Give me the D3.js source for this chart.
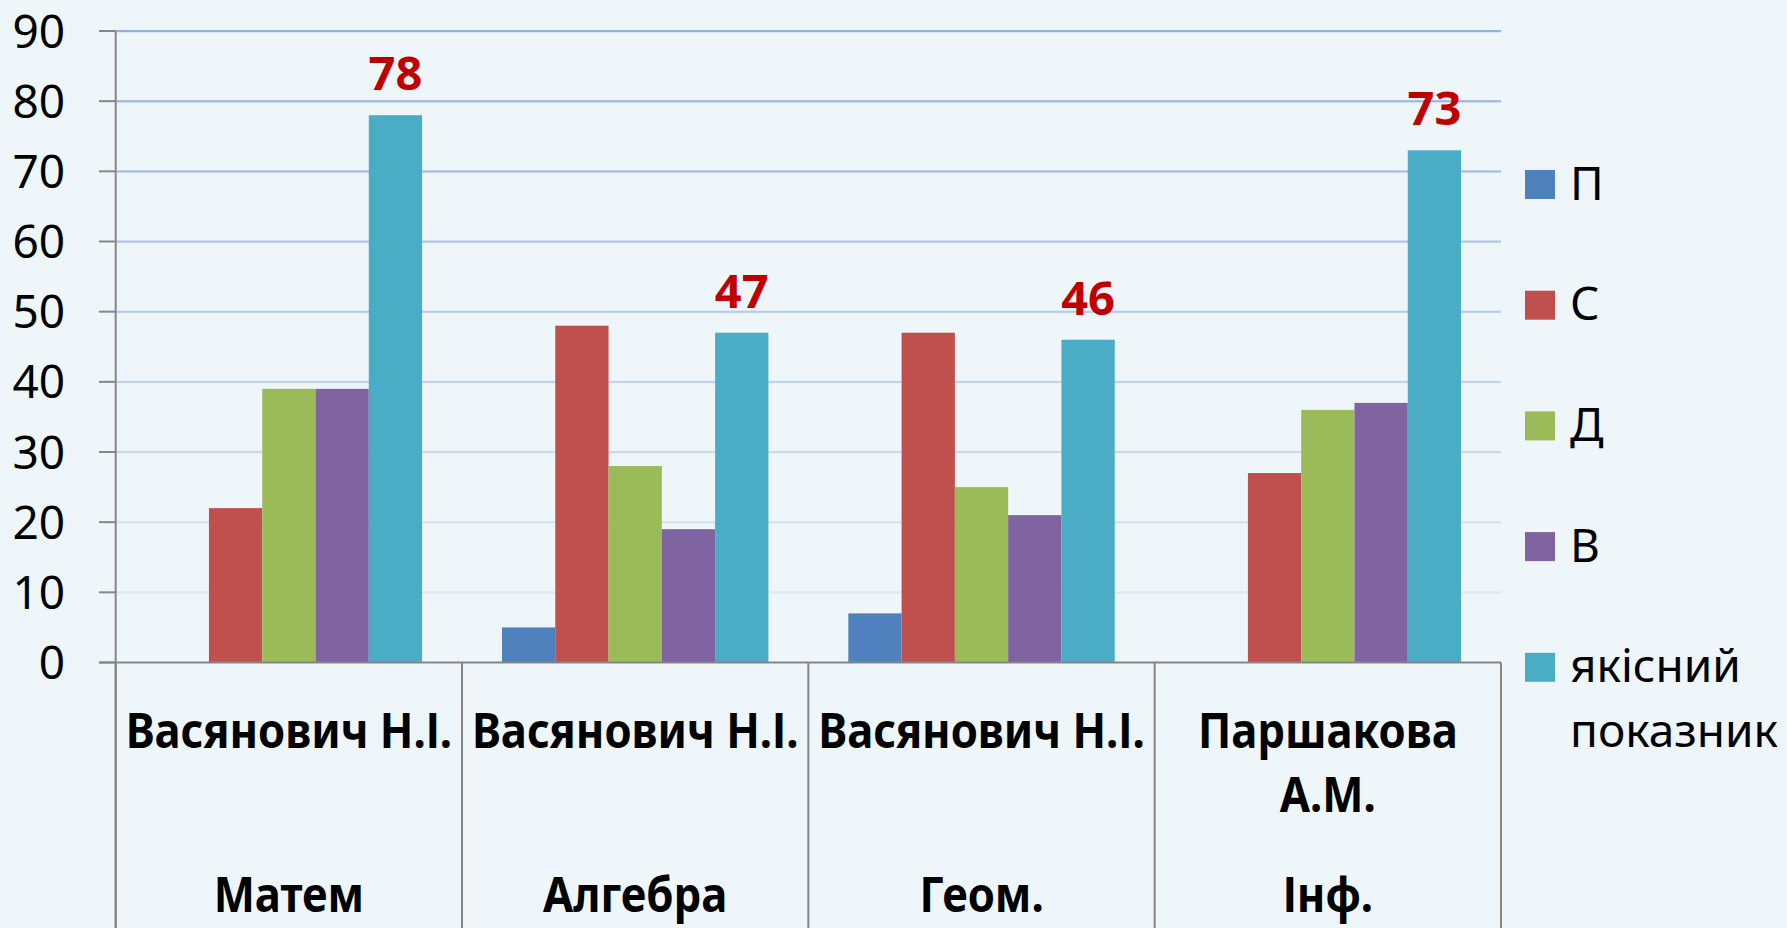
<!DOCTYPE html>
<html>
<head>
<meta charset="utf-8">
<script src="https://cdn.jsdelivr.net/npm/d3@7"></script>
<style>
	html, body { margin: 0; padding: 0; background: #eef6f9; }
	svg { display: block; font-family: 'Noto Sans', sans-serif; }
</style>
</head>
<body>
<div id="chart"></div>
<script>
const teachers = [['Васянович Н.І.'], ['Васянович Н.І.'], ['Васянович Н.І.'], ['Паршакова', 'А.М.']]
const subjects = ['Матем', 'Алгебра', 'Геом.', 'Інф.']
const series   = ['П', 'С', 'Д', 'В', 'якісний показник']
const colors   = ['#4f81bd', '#c0504d', '#9bbb59', '#8064a2', '#4bacc6']

const valP = [0, 5, 7, 0]
const valS = [22, 48, 47, 27]
const valD = [39, 28, 25, 36]
const valV = [39, 19, 21, 37]
const valQ = [78, 47, 46, 73]

const yTicks = [0, 10, 20, 30, 40, 50, 60, 70, 80, 90]

const values = [valP, valS, valD, valV, valQ]
const data = subjects.map((s, i) => ({
	subject: s,
	teacher: teachers[i],
	bars: series.map((name, k) => ({ name, k, value: values[k][i] }))
}))

const W = 1787, H = 928
const plotL = 115.7, plotR = 1501, plotT = 31, plotB = 662.5

const svg = d3.select('#chart').append('svg')
	.attr('width', W)
	.attr('height', H)

const defs = svg.append('defs')
const grad = defs.append('linearGradient')
	.attr('id', 'gridGrad')
	.attr('gradientUnits', 'userSpaceOnUse')
	.attr('x1', 0).attr('x2', 0)
	.attr('y1', plotT).attr('y2', plotB)
grad.append('stop').attr('offset', 0).attr('stop-color', '#93b1df')
grad.append('stop').attr('offset', 1).attr('stop-color', '#e6edf8')

const x = d3.scaleBand()
	.domain(subjects)
	.range([plotL, plotR])
	.padding(0)

const xs = d3.scaleBand()
	.domain(series)
	.range([0, x.bandwidth()])
	.paddingInner(0)
	.paddingOuter(0.75)

const y = d3.scaleLinear()
	.domain([0, 90])
	.range([plotB, plotT])

// Gridlines

svg.append('g')
	.selectAll('rect')
	.data(yTicks.filter(d => d > 0))
	.enter()
	.append('rect')
	.attr('x', plotL)
	.attr('width', plotR - plotL)
	.attr('y', d => y(d) - 1)
	.attr('height', 2.2)
	.attr('fill', 'url(#gridGrad)')

// Bars

const groups = svg.append('g')
	.selectAll('g')
	.data(data)
	.enter()
	.append('g')
	.attr('transform', d => `translate(${x(d.subject)},0)`)

groups.selectAll('rect')
	.data(d => d.bars.filter(b => b.value > 0))
	.enter()
	.append('rect')
	.attr('x', b => xs(b.name))
	.attr('width', xs.bandwidth())
	.attr('y', b => y(b.value))
	.attr('height', b => y(0) - y(b.value))
	.attr('fill', b => colors[b.k])

// Data labels (якісний показник)

groups.append('text')
	.datum(d => d.bars[4])
	.attr('x', b => xs(b.name) + xs.bandwidth() / 2)
	.attr('y', b => y(b.value) - 25)
	.attr('text-anchor', 'middle')
	.attr('font-size', 47)
	.attr('font-weight', 'bold')
	.attr('fill', '#c00000')
	.text(b => b.value)

// Axes

const axisColor = '#868686'

const yAxis = svg.append('g')
yAxis.append('line')
	.attr('x1', plotL).attr('x2', plotL)
	.attr('y1', plotT).attr('y2', H)
	.attr('stroke', axisColor)
	.attr('stroke-width', 2)

yAxis.selectAll('line.tick')
	.data(yTicks)
	.enter()
	.append('line')
	.attr('class', 'tick')
	.attr('x1', 99).attr('x2', plotL)
	.attr('y1', d => y(d)).attr('y2', d => y(d))
	.attr('stroke', axisColor)
	.attr('stroke-width', 2)

yAxis.selectAll('text')
	.data(yTicks)
	.enter()
	.append('text')
	.attr('x', 65)
	.attr('y', d => y(d) + 16.5)
	.attr('text-anchor', 'end')
	.attr('font-size', 46)
	.attr('fill', '#000')
	.text(d => d)

const xAxis = svg.append('g')
xAxis.append('line')
	.attr('x1', 99).attr('x2', plotR)
	.attr('y1', plotB).attr('y2', plotB)
	.attr('stroke', axisColor)
	.attr('stroke-width', 2)

xAxis.selectAll('line.div')
	.data(subjects.map(s => x(s)).concat([plotR]))
	.enter()
	.append('line')
	.attr('class', 'div')
	.attr('x1', d => d).attr('x2', d => d)
	.attr('y1', plotB).attr('y2', H)
	.attr('stroke', axisColor)
	.attr('stroke-width', 2)

const condense = 0.91

const cat = xAxis.selectAll('g.cat')
	.data(data)
	.enter()
	.append('g')
	.attr('class', 'cat')
	.attr('transform', d => `translate(${x(d.subject) + x.bandwidth() / 2},0)`)

cat.selectAll('text.teacher')
	.data(d => d.teacher)
	.enter()
	.append('text')
	.attr('class', 'teacher')
	.attr('transform', (t, i) => `translate(0,${748 + i * 64}) scale(${condense},1)`)
	.attr('text-anchor', 'middle')
	.attr('font-size', 48)
	.attr('font-weight', 'bold')
	.text(t => t)

cat.append('text')
	.attr('transform', `translate(0,912) scale(${condense},1)`)
	.attr('text-anchor', 'middle')
	.attr('font-size', 48)
	.attr('font-weight', 'bold')
	.text(d => d.subject)

// Legend

const legend = svg.append('g')
	.selectAll('g')
	.data(series)
	.enter()
	.append('g')
	.attr('transform', (d, i) => `translate(1525,${170 + i * 120.7})`)

legend.append('rect')
	.attr('width', 30)
	.attr('height', 29)
	.attr('fill', (d, i) => colors[i])

legend.append('text')
	.attr('x', 45)
	.attr('y', 29.5)
	.attr('font-size', 46)
	.selectAll('tspan')
	.data(d => d.split(' '))
	.enter()
	.append('tspan')
	.attr('x', 45)
	.attr('dy', (t, i) => i ? 65 : 0)
	.text(t => t)
</script>
</body>
</html>
